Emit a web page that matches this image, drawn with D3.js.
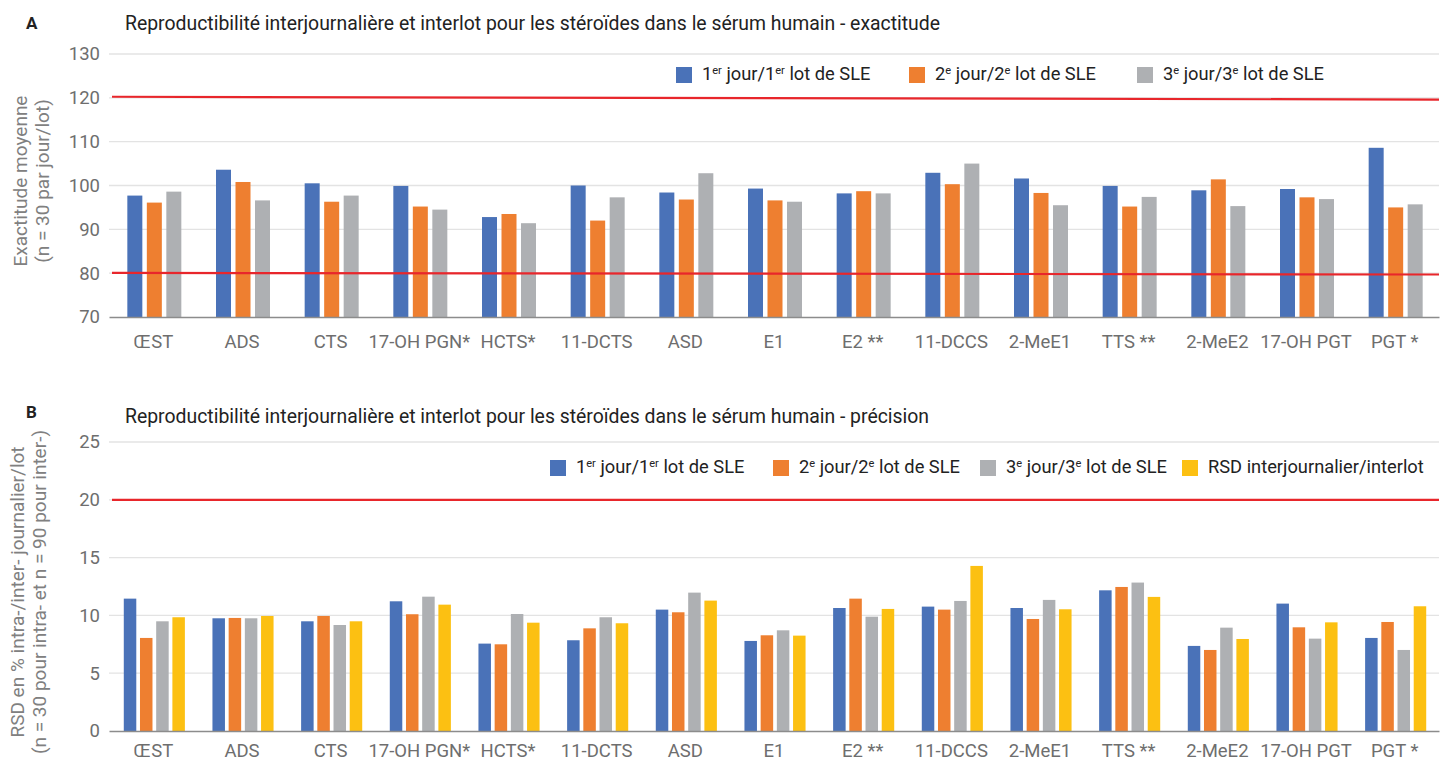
<!DOCTYPE html>
<html>
<head>
<meta charset="utf-8">
<script src="https://cdn.jsdelivr.net/npm/d3@7"></script>
<style>
  body { margin: 0; background: #fff; font-family: Roboto, "Noto Sans", sans-serif; }
  svg text { font-family: Roboto, "Noto Sans", sans-serif; }
</style>
</head>
<body>
<script>
const categories = ['ŒST', 'ADS', 'CTS', '17-OH PGN*', 'HCTS*', '11-DCTS', 'ASD', 'E1', 'E2 **', '11-DCCS', '2-MeE1', 'TTS **', '2-MeE2', '17-OH PGT', 'PGT *'];

// chart A - exactitude
const accDay1 = [97.7, 103.6, 100.5, 99.9, 92.8, 100.0, 98.4, 99.3, 98.2, 102.9, 101.6, 99.9, 98.9, 99.2, 108.6];
const accDay2 = [96.1, 100.8, 96.3, 95.2, 93.5, 92.0, 96.8, 96.6, 98.7, 100.3, 98.3, 95.2, 101.4, 97.3, 95.0];
const accDay3 = [98.6, 96.6, 97.7, 94.5, 91.4, 97.3, 102.8, 96.3, 98.2, 105.0, 95.5, 97.4, 95.3, 96.9, 95.7];
const accTicks = [70, 80, 90, 100, 110, 120, 130];
const accLimits = [[120.25, 119.6], [80.05, 79.7]];

// chart B - précision
const rsdDay1 = [11.45, 9.75, 9.49, 11.22, 7.56, 7.85, 10.5, 7.79, 10.64, 10.76, 10.64, 12.17, 7.36, 11.02, 8.05];
const rsdDay2 = [8.05, 9.78, 9.95, 10.1, 7.5, 8.88, 10.27, 8.28, 11.45, 10.5, 9.69, 12.46, 7.01, 8.97, 9.43];
const rsdDay3 = [9.49, 9.75, 9.17, 11.62, 10.12, 9.84, 11.97, 8.71, 9.89, 11.25, 11.34, 12.84, 8.94, 7.99, 7.01];
const rsdInter = [9.84, 9.95, 9.49, 10.93, 9.37, 9.32, 11.28, 8.25, 10.56, 14.28, 10.53, 11.6, 7.96, 9.4, 10.79];
const rsdTicks = [0, 5, 10, 15, 20, 25];
const rsdLimits = [[20, 20]];

const seriesColors = ['#4a72b8', '#ee7f30', '#aeb0b3', '#fcc012'];
const legendParts = [
  [['1', ''], ['er', 'sup'], [' jour/1', ''], ['er', 'sup'], [' lot de SLE', '']],
  [['2', ''], ['e', 'sup'], [' jour/2', ''], ['e', 'sup'], [' lot de SLE', '']],
  [['3', ''], ['e', 'sup'], [' jour/3', ''], ['e', 'sup'], [' lot de SLE', '']],
  [['RSD interjournalier/interlot', '']],
];

const width = 1440;
const height = 764;
const svg = d3.select('body').append('svg').attr('width', width).attr('height', height);

function drawPanel(opts) {
  const { letter, title, top, bottom, domain, ticks, series, limits, legendX, legendY, yTitle, barW, pad } = opts;
  const g = svg.append('g');

  const x = d3.scaleBand().domain(categories).range([109, 1439]);
  const y = d3.scaleLinear().domain(domain).range([bottom, top]);
  const groupW = barW * series.length + pad * (series.length - 1);

  g.append('text').attr('x', 26).attr('y', opts.letterY).attr('font-size', 17).attr('font-weight', 'bold')
    .attr('fill', '#222').text(letter);
  g.append('text').attr('x', 125).attr('y', opts.titleY).attr('font-size', 19.4).attr('fill', '#222').text(title);

  // gridlines
  g.append('g').selectAll('line').data(ticks.slice(1)).enter().append('line')
    .attr('x1', 109).attr('x2', 1439).attr('y1', d => y(d)).attr('y2', d => y(d))
    .attr('stroke', '#e3e3e3').attr('stroke-width', 1.3);

  const yAxis = g.append('g').attr('transform', 'translate(109,0)')
    .call(d3.axisLeft(y).tickValues(ticks).tickSize(0).tickPadding(9));
  yAxis.select('.domain').remove();
  yAxis.selectAll('text').attr('font-size', 18.5).attr('fill', '#6e6e6e').attr('font-family', 'Roboto');

  series.forEach((vals, si) => {
    g.append('g').selectAll('rect').data(vals).enter().append('rect')
      .attr('x', (d, i) => x(categories[i]) + x.bandwidth() / 2 - groupW / 2 + 1 + si * (barW + pad))
      .attr('y', d => y(d))
      .attr('width', barW)
      .attr('height', d => bottom - y(d))
      .attr('fill', seriesColors[si]);
  });

  // limits
  limits.forEach(l => {
    g.append('line').attr('x1', 112).attr('x2', 1439)
      .attr('y1', y(l[0])).attr('y2', y(l[1]))
      .attr('stroke', '#e8262b').attr('stroke-width', 2.2);
  });

  const xAxis = g.append('g').attr('transform', `translate(0,${bottom})`)
    .call(d3.axisBottom(x).tickSize(0).tickPadding(opts.xPad));
  xAxis.select('.domain').attr('stroke', '#8c8c8c').attr('stroke-width', 1.5);
  xAxis.selectAll('text').attr('font-size', 18.5).attr('fill', '#6e6e6e').attr('font-family', 'Roboto');

  // y title
  const yt = g.append('text').attr('transform', `translate(${opts.yTitleX},${opts.yTitleY}) rotate(-90)`)
    .attr('text-anchor', 'middle').attr('font-size', 19).attr('fill', '#808080');
  yTitle.forEach((t, i) => yt.append('tspan').attr('x', 0).attr('dy', i === 0 ? 0 : 21.5).text(t));

  // legend
  legendX.forEach((lx, si) => {
    g.append('rect').attr('x', lx).attr('y', legendY - 13).attr('width', 16).attr('height', 16).attr('fill', seriesColors[si]);
    const t = g.append('text').attr('x', lx + 26).attr('y', legendY).attr('font-size', 18.3).attr('fill', '#222');
    legendParts[si].forEach((p, i) => {
      const prev = i > 0 ? legendParts[si][i - 1] : null;
      const ts = t.append('tspan').text(p[0]);
      if (p[1] === 'sup') ts.attr('font-size', 11).attr('dy', -6.5);
      else if (prev && prev[1] === 'sup') ts.attr('dy', 6.5);
    });
  });
}

drawPanel({
  letter: 'A', letterY: 29, titleY: 30,
  title: 'Reproductibilité interjournalière et interlot pour les stéroïdes dans le sérum humain - exactitude',
  top: 54, bottom: 317, domain: [70, 130], ticks: accTicks,
  series: [accDay1, accDay2, accDay3], limits: accLimits,
  legendX: [676, 909, 1137], legendY: 80,
  yTitle: ['Exactitude moyenne', '(n = 30 par jour/lot)'], yTitleX: 27, yTitleY: 181, xPad: 18,
  barW: 15, pad: 4.5,
});

drawPanel({
  letter: 'B', letterY: 418, titleY: 423,
  title: 'Reproductibilité interjournalière et interlot pour les stéroïdes dans le sérum humain - précision',
  top: 442, bottom: 731, domain: [0, 25], ticks: rsdTicks,
  series: [rsdDay1, rsdDay2, rsdDay3, rsdInter], limits: rsdLimits,
  legendX: [550, 773, 980, 1182], legendY: 473,
  yTitle: ['RSD en % intra-/inter- journalier/lot', '(n = 30 pour intra- et n = 90 pour inter-)'], yTitleX: 24, yTitleY: 592, xPad: 13,
  barW: 12.5, pad: 3.7,
});
</script>
</body>
</html>
